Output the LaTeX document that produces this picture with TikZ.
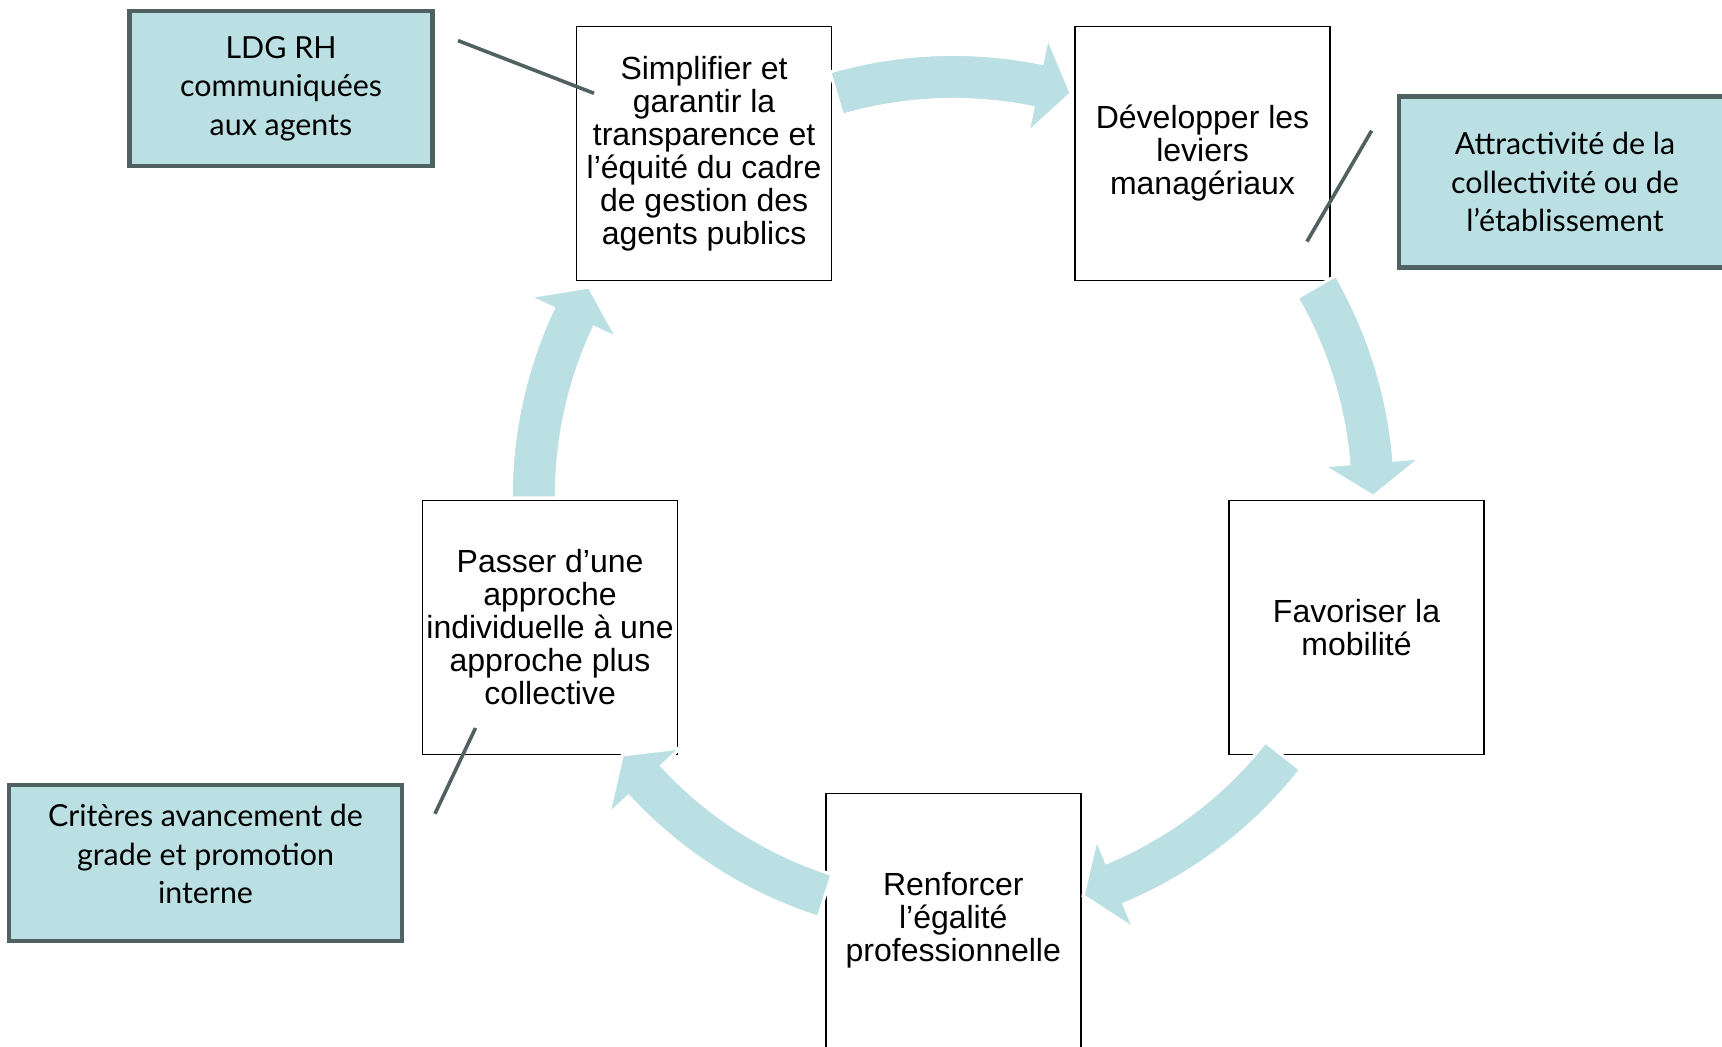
\documentclass[tikz,border=0pt]{standalone}
\usepackage{fontspec}
\setmainfont{Liberation Sans}
\newfontfamily\notefont{Lato}
\definecolor{cyclefill}{RGB}{187,224,227}
\definecolor{noteline}{RGB}{80,97,98}

\begin{document}
\begin{tikzpicture}[x=0.5pt,y=0.5pt]
    \tikzset{stepbox/.style = {shape=rectangle, draw=black, line width=0.8pt, fill=white, minimum width=127.5pt, minimum height=127pt, align=center, inner sep=1pt, font=\fontsize{16}{16.5}\selectfont}}
    \tikzset{notebox/.style = {shape=rectangle, draw=noteline, line width=2.2pt, fill=cyclefill, align=center, inner sep=2pt, font=\notefont\fontsize{15.2}{19.2}\selectfont}}
    \tikzset{noteedge/.style = {draw=noteline, line width=1.8pt}}
    \tikzset{cyclearrow/.style = {fill=cyclefill, draw=white, line width=1.5pt}}
    \useasboundingbox (0,0) rectangle (1722,1046);

    % notes
    \node[notebox, minimum width=151.5pt, minimum height=77.5pt] (ldg) at (281,957.5) {LDG RH\\communiquées\\aux agents};
    \node[notebox, minimum width=166pt, minimum height=85.5pt] (attr) at (1565,864) {Attractivité de la\\collectivité ou de\\l’établissement};
    \node[notebox, minimum width=196.5pt, minimum height=78pt, text depth=9pt] (crit) at (205.5,183) {Critères avancement de\\grade et promotion\\interne};

    \begin{scope}[shift={(953.3,549.6)}]
    % steps
    \node[stepbox] (simp) at (126:424) {Simplifier et\\garantir la\\transparence et\\l’équité du cadre\\de gestion des\\agents publics};
    \node[stepbox] (dev)  at (54:424)  {Développer les\\leviers\\managériaux};
    \node[stepbox] (mob)  at (-18:424) {Favoriser la\\mobilité};
    \node[stepbox] (egal) at (-90:424) {Renforcer\\l’égalité\\professionnelle};
    \node[stepbox] (coll) at (198:424) {Passer d’une\\approche\\individuelle à une\\approche plus\\collective};

    % arrows
    \foreach \tail/\tip [evaluate=\tip as \base using \tip+4.7] in {106.2/73.7, 30/0, -38.2/-72, -107.8/-142, 180.2/150.1}
      \filldraw[cyclearrow] (\tail:397) arc[start angle=\tail, end angle=\base, radius=397]
        -- (\base:371) -- (\tip:420) -- (\base:469) -- (\base:442)
        arc[start angle=\base, end angle=\tail, radius=442] -- cycle;
    \end{scope}

    % callouts
    \coordinate (ldg-a) at (458,1005.4);
    \coordinate (ldg-b) at (594,952.7);
    \coordinate (attr-a) at (1371.6,915.3);
    \coordinate (attr-b) at (1306.9,804.4);
    \coordinate (crit-a) at (475.5,318);
    \coordinate (crit-b) at (434.9,232.2);
    \draw[noteedge] (ldg-a) -- (ldg-b);
    \draw[noteedge] (attr-a) -- (attr-b);
    \draw[noteedge] (crit-a) -- (crit-b);
\end{tikzpicture}
\end{document}
